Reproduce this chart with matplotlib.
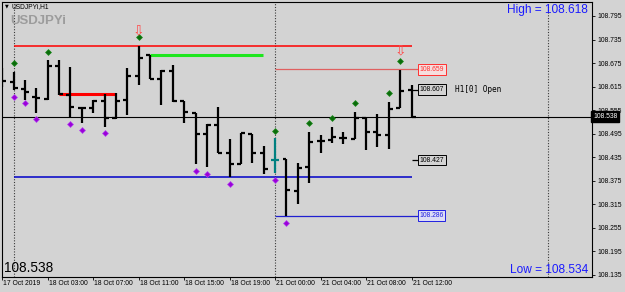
import matplotlib.pyplot as plt

# hourly bars USDJPYi H1, 17 Oct 23:00 .. 21 Oct 12:00
opens = [108.631, 108.627, 108.608, 108.589, 108.583, 108.667, 108.593, 108.560, 108.560, 108.577,
         108.534, 108.581, 108.642, 108.696, 108.634, 108.655, 108.579, 108.548, 108.494, 108.517,
         108.445, 108.417, 108.493, 108.445, 108.428, 108.429, 108.349, 108.409, 108.477, 108.479,
         108.485, 108.481, 108.534, 108.500, 108.491, 108.560, 108.607]
highs = [108.662, 108.652, 108.632, 108.611, 108.683, 108.683, 108.666, 108.564, 108.581, 108.595,
         108.598, 108.662, 108.718, 108.696, 108.657, 108.670, 108.579, 108.548, 108.519, 108.564,
         108.481, 108.497, 108.493, 108.463, 108.483, 108.430, 108.419, 108.500, 108.491, 108.513,
         108.500, 108.551, 108.534, 108.545, 108.576, 108.657, 108.618]
lows = [108.614, 108.606, 108.581, 108.548, 108.581, 108.593, 108.538, 108.521, 108.548, 108.513,
        108.531, 108.542, 108.619, 108.634, 108.568, 108.576, 108.521, 108.417, 108.411, 108.445,
        108.385, 108.417, 108.419, 108.391, 108.394, 108.286, 108.315, 108.368, 108.445, 108.470,
        108.468, 108.480, 108.453, 108.462, 108.455, 108.560, 108.534]
closes = [108.629, 108.611, 108.602, 108.587, 108.667, 108.595, 108.564, 108.560, 108.577, 108.534,
          108.579, 108.642, 108.687, 108.635, 108.655, 108.579, 108.551, 108.494, 108.517, 108.445,
          108.417, 108.496, 108.445, 108.404, 108.428, 108.351, 108.406, 108.474, 108.477, 108.486,
          108.485, 108.534, 108.500, 108.491, 108.558, 108.604, 108.538]

tick_bars = [0, 4, 8, 12, 16, 20, 24, 28, 32, 36]
tick_text = ["17 Oct 2019", "18 Oct 03:00", "18 Oct 07:00", "18 Oct 11:00", "18 Oct 15:00",
             "18 Oct 19:00", "21 Oct 00:00", "21 Oct 04:00", "21 Oct 08:00", "21 Oct 12:00"]
price_ticks = [108.135, 108.195, 108.255, 108.315, 108.375, 108.435, 108.495, 108.555,
               108.615, 108.675, 108.735, 108.795]

up_bars = [1, 4, 12, 24, 27, 29, 31, 34, 35]
up_vals = [108.674, 108.704, 108.741, 108.502, 108.521, 108.534, 108.572, 108.598, 108.680]
down_bars = [1, 2, 3, 6, 7, 9, 17, 18, 20, 24, 25]
down_vals = [108.588, 108.572, 108.531, 108.520, 108.504, 108.496, 108.400, 108.392, 108.366,
             108.377, 108.268]
arrow_bars = [12, 35]
arrow_vals = [108.759, 108.708]

current = 108.538
day_high = 108.618
day_low = 108.534
bg = "#d3d3d3"

fig = plt.figure(figsize=(6.25, 2.92), dpi=100, facecolor=bg)
ax = fig.add_axes([2 / 625, 15 / 292, 590 / 625, 275 / 292], facecolor=bg)
ax.set_xlim(-0.02, 51.87)
ax.set_ylim(108.1292, 108.8307)

# separators
for xs in [1, 24, 48]:
    ax.axvline(xs, color="#3a3a3a", lw=0.8, ls=(0, (1, 1.5)), zorder=1)

# levels
ax.hlines(108.718, 1, 36, color="#ff0000", lw=1.1, zorder=2)
ax.hlines(108.384, 1, 36, color="#0000c8", lw=1.1, zorder=2)
ax.hlines(108.696, 13, 22.9, color="#1ee61e", lw=2.2, zorder=2)
ax.hlines(108.595, 5, 9.9, color="#ff0000", lw=2.2, zorder=2)
ax.hlines(108.659, 24, 36.6, color="#e06060", lw=0.9, zorder=2)
ax.hlines(108.286, 24, 36.6, color="#2020d0", lw=0.9, zorder=2)
ax.hlines([108.607, 108.427], 36, 36.6, color="black", lw=0.9, zorder=2)
ax.axhline(current, color="black", lw=0.8, zorder=2)

# OHLC bars
colors = ["#008080" if i == 24 else "black" for i in range(len(opens))]
idx = list(range(len(opens)))
ax.vlines(idx, lows, highs, colors=colors, lw=1.6, zorder=3)
ax.hlines(opens, [i - 0.35 for i in idx], idx, colors=colors, lw=1.6, zorder=3)
ax.hlines(closes, idx, [i + 0.35 for i in idx], colors=colors, lw=1.6, zorder=3)

ax.plot(up_bars, up_vals, "D", color="#0b6b0b", ms=3, mec="#1a8a1a", mew=0.5, zorder=4)
ax.plot(down_bars, down_vals, "D", color="#9a00d8", ms=3, mec="#b040ee", mew=0.5, zorder=4)
for b, v in zip(arrow_bars, arrow_vals):
    ax.text(b, v, "\u21e9", color="#ff4a4a", fontsize=10, ha="center", va="center",
            family="DejaVu Sans", zorder=4)

# price boxes
box_font = dict(fontsize=4.9, family="Liberation Sans", va="center", ha="left", zorder=5)
ax.text(36.7, 108.659, "108.659", color="#ff3030",
        bbox=dict(boxstyle="square,pad=0.25", fc="#f6dede", ec="#ff3030", lw=0.7), **box_font)
ax.text(36.7, 108.607, "108.607", color="black",
        bbox=dict(boxstyle="square,pad=0.25", fc=bg, ec="black", lw=0.7), **box_font)
ax.text(36.7, 108.427, "108.427", color="black",
        bbox=dict(boxstyle="square,pad=0.25", fc=bg, ec="black", lw=0.7), **box_font)
ax.text(36.7, 108.286, "108.286", color="#2020e0",
        bbox=dict(boxstyle="square,pad=0.25", fc="#dcdcf6", ec="#2020e0", lw=0.7), **box_font)
ax.text(39.8, 108.607, "H1[0] Open", fontsize=5.6, family="DejaVu Sans Mono",
        va="center", ha="left", color="black")

# corner texts
ax.text(0.005, 0.985, "\u25bc", transform=ax.transAxes, fontsize=3.5, va="center", ha="left")
ax.text(0.0169, 0.985, "USDJPYi,H1", transform=ax.transAxes, fontsize=4.8,
        family="Liberation Sans", va="center", ha="left")
ax.text(0.0136, 0.93, "USDJPYi", transform=ax.transAxes, fontsize=9.5, weight="bold",
        family="Liberation Sans", color="#9c9c9c", va="center", ha="left")
ax.text(0.993, 0.971, f"High = {day_high:.3f}", transform=ax.transAxes, fontsize=8.6,
        family="Liberation Sans", color="#1a1aff", va="center", ha="right")
ax.text(0.993, 0.025, f"Low = {day_low:.3f}", transform=ax.transAxes, fontsize=8.6,
        family="Liberation Sans", color="#1a1aff", va="center", ha="right")
ax.text(0.0034, 0.033, f"{current:.3f}", transform=ax.transAxes, fontsize=9.8,
        family="Liberation Sans", color="black", va="center", ha="left")

# axes
ax.yaxis.tick_right()
ax.set_yticks(price_ticks)
ax.set_yticklabels([f"{p:.3f}" for p in price_ticks], fontsize=4.9, family="Liberation Sans")
ax.tick_params(axis="y", length=2.5, width=0.6, pad=1.5)
ax.set_xticks(tick_bars)
ax.set_xticklabels([])
ax.tick_params(axis="x", length=2.5, width=0.6, direction="out")
for b, t in zip(tick_bars, tick_text):
    ax.text(b + 0.1, -0.012, t, transform=ax.get_xaxis_transform(), fontsize=4.9,
            family="Liberation Sans", va="top", ha="left")
ax.text(1.002, current, f"{current:.3f}", transform=ax.get_yaxis_transform(), fontsize=4.9,
        family="Liberation Sans", color="white", va="center", ha="left", zorder=6,
        bbox=dict(boxstyle="square,pad=0.3", fc="black", ec="black"), clip_on=False)
for s in ax.spines.values():
    s.set_linewidth(0.8)

fig.savefig("out.png", dpi=100, facecolor=bg)
